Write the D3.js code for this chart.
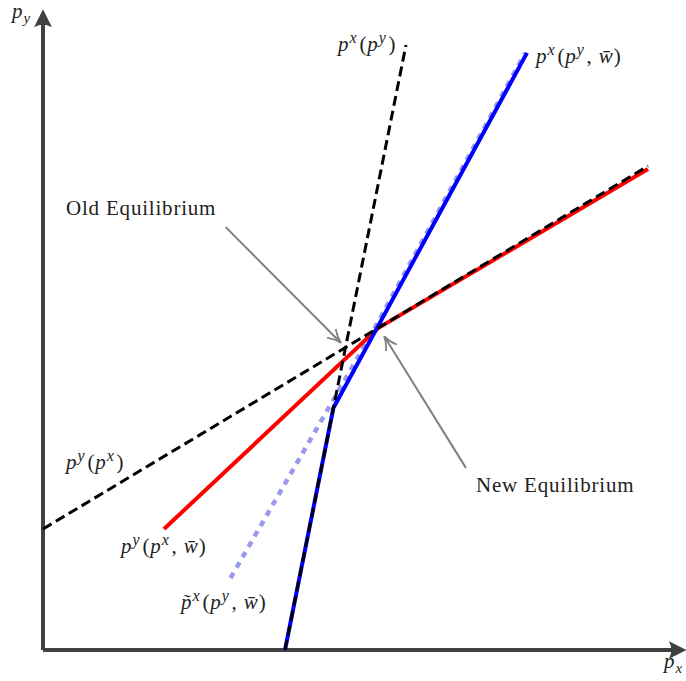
<!DOCTYPE html>
<html>
<head>
<meta charset="utf-8">
<script src="https://cdn.jsdelivr.net/npm/d3@7"></script>
<style>
	body { margin: 0; background: #fff; }
	text { font-family: "Liberation Serif", "DejaVu Serif", serif; fill: #222; }
</style>
</head>
<body>
<div id="chart"></div>
<script>
(function () {
	'use strict';

	// curves, in model units (0..10 on both axes)
	var pyOfPx = [[0, 2.0], [10, 8.0]];
	var pxOfPy = [[4.0, 0], [6.0, 10]];
	var pyOfPxW = [[2.0, 2.0], [5.54, 5.32], [10, 7.95]];
	var pxOfPyW = [[4.0, 0], [4.8, 4.0], [8.0, 9.87]];
	var pxTilde = [[3.1, 1.19], [5.46, 5.28], [7.97, 9.87]];

	// annotation arrows: [from, to]
	var oldArrow = [[3.02, 6.99], [4.91, 5.09]];
	var newArrow = [[6.99, 3.01], [5.65, 5.17]];

	var axisMax = [10.55, 10.5];

	var width = 686, height = 681;
	var x = d3.scaleLinear().domain([0, 10]).range([43, 648]);
	var y = d3.scaleLinear().domain([0, 10]).range([650, 45]);

	var svg = d3.select("#chart")
		.append("svg")
		.attr("width", width)
		.attr("height", height);

	var defs = svg.append("defs");
	defs.append("marker")
		.attr("id", "axhead")
		.attr("viewBox", "0 0 10 10")
		.attr("refX", 7).attr("refY", 5)
		.attr("markerWidth", 4.5).attr("markerHeight", 4.5)
		.attr("markerUnits", "strokeWidth")
		.attr("orient", "auto")
		.append("path")
		.attr("d", "M0,0 Q3,5 0,10 L10,5 Z")
		.attr("fill", "#404040");
	defs.append("marker")
		.attr("id", "grhead")
		.attr("viewBox", "0 0 10 10")
		.attr("refX", 9).attr("refY", 5)
		.attr("markerWidth", 7).attr("markerHeight", 7)
		.attr("markerUnits", "strokeWidth")
		.attr("orient", "auto")
		.append("path")
		.attr("d", "M0,0.5 Q5,4 10,5 Q5,6 0,9.5")
		.attr("fill", "none")
		.attr("stroke", "#808080")
		.attr("stroke-width", 1.3);

	var line = d3.line().x(function(d){ return x(d[0]); }).y(function(d){ return y(d[1]); });

	// axes
	svg.append("path")
		.attr("d", line([[0, 0], [axisMax[0], 0]]))
		.attr("stroke", "#404040").attr("stroke-width", 4).attr("fill", "none")
		.attr("marker-end", "url(#axhead)");
	svg.append("path")
		.attr("d", line([[0, 0], [0, axisMax[1]]]))
		.attr("stroke", "#404040").attr("stroke-width", 4).attr("fill", "none")
		.attr("marker-end", "url(#axhead)");

	var curves = [
		{pts: pxTilde, color: "#9999f0", w: 4.5, dash: "6,6"},
		{pts: pyOfPxW, color: "#ff0000", w: 4, dash: null},
		{pts: pxOfPyW, color: "#0000ff", w: 4, dash: null},
		{pts: pyOfPx, color: "#000", w: 3, dash: "10,5"},
		{pts: pxOfPy, color: "#000", w: 3, dash: "10,5"}
	];
	svg.selectAll("path.curve")
		.data(curves)
		.enter()
		.append("path")
		.attr("class", "curve")
		.attr("d", function(d){ return line(d.pts); })
		.attr("fill", "none")
		.attr("stroke", function(d){ return d.color; })
		.attr("stroke-width", function(d){ return d.w; })
		.attr("stroke-dasharray", function(d){ return d.dash; });

	svg.selectAll("path.ann")
		.data([oldArrow, newArrow])
		.enter()
		.append("path")
		.attr("class", "ann")
		.attr("d", line)
		.attr("stroke", "#808080").attr("stroke-width", 2).attr("fill", "none")
		.attr("marker-end", "url(#grhead)");

	// labels (pixel anchor = left, baseline); pieces are [text, italic, shift]
	var labels = [
		{at: [12, 18], parts: [["p", 1, 0], ["y", 1, "sub"]]},
		{at: [664, 668], parts: [["p", 1, 0], ["x", 1, "sub"]]},
		{at: [338, 51], parts: [["p", 1, 0], ["x", 1, "sup"], ["(", 0, 0], ["p", 1, 0], ["y", 1, "sup"], [")", 0, 0]]},
		{at: [536, 63], parts: [["p", 1, 0], ["x", 1, "sup"], ["(", 0, 0], ["p", 1, 0], ["y", 1, "sup"], [", ", 0, 0], ["w\u0304", 1, 0], [")", 0, 0]]},
		{at: [66, 215], parts: [["Old Equilibrium", 0, 0]]},
		{at: [66, 469], parts: [["p", 1, 0], ["y", 1, "sup"], ["(", 0, 0], ["p", 1, 0], ["x", 1, "sup"], [")", 0, 0]]},
		{at: [121, 553], parts: [["p", 1, 0], ["y", 1, "sup"], ["(", 0, 0], ["p", 1, 0], ["x", 1, "sup"], [", ", 0, 0], ["w\u0304", 1, 0], [")", 0, 0]]},
		{at: [181, 609], parts: [["p\u0303", 1, 0], ["x", 1, "sup"], ["(", 0, 0], ["p", 1, 0], ["y", 1, "sup"], [", ", 0, 0], ["w\u0304", 1, 0], [")", 0, 0]]},
		{at: [476, 492], parts: [["New Equilibrium", 0, 0]]}
	];

	var t = svg.selectAll("text.lab")
		.data(labels)
		.enter()
		.append("text")
		.attr("class", "lab")
		.attr("x", function(d){ return d.at[0]; })
		.attr("y", function(d){ return d.at[1]; })
		.attr("font-size", 21);

	t.each(function(d){
		var el = d3.select(this);
		d.parts.forEach(function(p){
			var s = el.append("tspan").text(p[0])
				.attr("font-style", p[1] ? "italic" : "normal");
			if (p[2] !== "sub") s.attr("letter-spacing", p[1] ? 1 : 0.8);
			if (p[2] === "sup") s.attr("dy", -8).attr("font-size", 16);
			if (p[2] === "sub") s.attr("dy", 5).attr("font-size", 15);
			// undo the shift on the next piece
			if (p[2] === "sup") el.append("tspan").attr("dy", 8).text("\u200a");
		});
	});
}());
</script>
</body>
</html>
